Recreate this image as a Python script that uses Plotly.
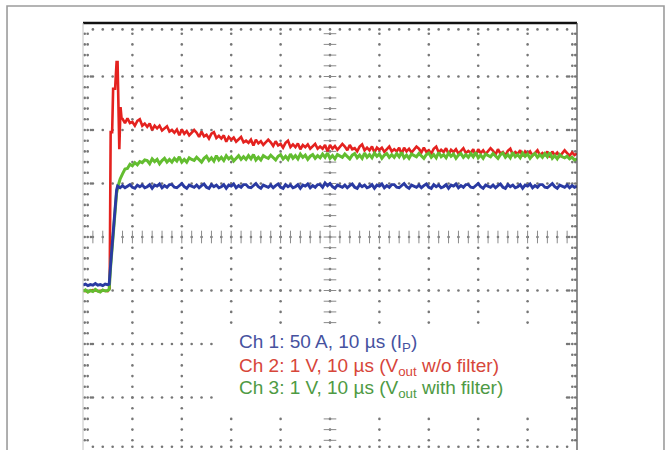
import plotly.graph_objects as go

# ---------------- data (time in µs, 10 µs/div; level in screen divisions, 0 = centre) -------------
# Ch 2 (red, Vout without filter) - edge / spike region
T_CH2_EDGE = [0, 1, 2, 3, 4, 5, 5.4, 5.6, 5.9, 6.1, 6.5, 6.8, 7.0, 7.35, 7.6, 7.8]
Y_CH2_EDGE = [-1.00, -1.02, -0.99, -1.01, -1.00, -1.01, -0.96, 1.96, 1.96, 2.77, 2.77, 3.27, 3.27, 1.64, 2.43, 2.22]

# Ch 3 (green, Vout with filter) - edge region
T_CH3_EDGE = [0, 0.5, 1, 1.5, 2, 2.5, 3, 3.5, 4, 4.5, 5, 5.3, 5.6, 6.0, 6.4, 6.8, 7.1, 7.5]
Y_CH3_EDGE = [-1.02, -0.99, -1.03, -1.00, -1.02, -0.98, -1.01, -1.03, -0.99, -1.01, -1.00, -0.98,
              -0.55, -0.05, 0.45, 0.82, 0.95, 1.08]

# Ch 1 (blue, current) - edge region
T_CH1_EDGE = [0, 0.5, 1, 1.5, 2, 2.5, 3, 3.5, 4, 4.5, 5, 5.3, 5.6, 6.0, 6.4, 6.8, 7.0, 7.5]
Y_CH1_EDGE = [-0.90, -0.88, -0.91, -0.89, -0.90, -0.87, -0.90, -0.89, -0.91, -0.88, -0.89, -0.88,
              -0.50, 0.00, 0.50, 0.88, 0.95, 0.92]

# steady part, one sample every 0.5 µs from 8 µs to 100 µs
T_STEADY = [8 + 0.5 * i for i in range(185)]

Y_CH2_STEADY = [
    2.21, 2.13, 2.22, 2.13, 2.15, 2.08, 2.17, 2.20, 2.08, 2.12,
    2.06, 2.12, 2.00, 2.08, 2.03, 2.08, 1.99, 2.04, 2.07, 1.97,
    2.00, 1.95, 2.01, 1.90, 2.01, 1.93, 1.98, 1.90, 1.95, 2.00,
    1.95, 1.87, 1.97, 1.88, 1.91, 1.84, 1.93, 1.96, 1.85, 1.89,
    1.84, 1.90, 1.78, 1.87, 1.82, 1.86, 1.78, 1.83, 1.87, 1.77,
    1.80, 1.76, 1.82, 1.71, 1.82, 1.75, 1.79, 1.72, 1.77, 1.82,
    1.77, 1.70, 1.79, 1.71, 1.74, 1.67, 1.76, 1.80, 1.68, 1.73,
    1.68, 1.75, 1.64, 1.72, 1.68, 1.73, 1.65, 1.70, 1.74, 1.65,
    1.69, 1.65, 1.72, 1.60, 1.72, 1.65, 1.70, 1.63, 1.69, 1.74,
    1.69, 1.62, 1.72, 1.64, 1.66, 1.60, 1.69, 1.73, 1.62, 1.67,
    1.62, 1.69, 1.58, 1.67, 1.63, 1.67, 1.59, 1.65, 1.69, 1.60,
    1.64, 1.60, 1.67, 1.55, 1.67, 1.60, 1.65, 1.58, 1.64, 1.69,
    1.65, 1.58, 1.67, 1.59, 1.62, 1.56, 1.65, 1.69, 1.58, 1.63,
    1.59, 1.66, 1.55, 1.63, 1.59, 1.64, 1.56, 1.62, 1.66, 1.57,
    1.61, 1.57, 1.64, 1.52, 1.64, 1.57, 1.62, 1.55, 1.61, 1.66,
    1.61, 1.54, 1.64, 1.56, 1.59, 1.52, 1.61, 1.65, 1.54, 1.59,
    1.55, 1.62, 1.51, 1.60, 1.55, 1.60, 1.52, 1.58, 1.62, 1.53,
    1.57, 1.53, 1.60, 1.49, 1.60, 1.53, 1.58, 1.51, 1.57, 1.62,
    1.57, 1.52, 1.58, 1.53, 1.56]

Y_CH3_STEADY = [
    1.18, 1.27, 1.28, 1.36, 1.33, 1.39, 1.35, 1.41, 1.39, 1.44,
    1.43, 1.37, 1.46, 1.41, 1.45, 1.37, 1.43, 1.47, 1.40, 1.45,
    1.40, 1.47, 1.42, 1.50, 1.40, 1.45, 1.40, 1.48, 1.45, 1.43,
    1.49, 1.44, 1.40, 1.47, 1.51, 1.43, 1.48, 1.42, 1.52, 1.44,
    1.49, 1.43, 1.52, 1.46, 1.50, 1.42, 1.48, 1.52, 1.45, 1.50,
    1.45, 1.52, 1.46, 1.54, 1.44, 1.49, 1.44, 1.52, 1.49, 1.47,
    1.53, 1.48, 1.44, 1.51, 1.54, 1.46, 1.51, 1.45, 1.55, 1.47,
    1.52, 1.46, 1.55, 1.49, 1.53, 1.45, 1.51, 1.54, 1.47, 1.52,
    1.48, 1.55, 1.49, 1.57, 1.47, 1.52, 1.46, 1.54, 1.51, 1.49,
    1.55, 1.50, 1.46, 1.53, 1.56, 1.48, 1.53, 1.47, 1.57, 1.49,
    1.54, 1.48, 1.57, 1.51, 1.55, 1.47, 1.53, 1.56, 1.49, 1.54,
    1.49, 1.56, 1.50, 1.58, 1.48, 1.53, 1.47, 1.55, 1.52, 1.50,
    1.56, 1.51, 1.47, 1.54, 1.57, 1.49, 1.54, 1.48, 1.58, 1.50,
    1.54, 1.48, 1.57, 1.51, 1.55, 1.47, 1.53, 1.56, 1.49, 1.54,
    1.49, 1.56, 1.50, 1.58, 1.48, 1.53, 1.47, 1.55, 1.52, 1.50,
    1.56, 1.51, 1.47, 1.54, 1.57, 1.49, 1.54, 1.48, 1.58, 1.50,
    1.54, 1.48, 1.57, 1.51, 1.55, 1.47, 1.53, 1.56, 1.49, 1.54,
    1.49, 1.56, 1.50, 1.58, 1.47, 1.52, 1.46, 1.54, 1.50, 1.48,
    1.51, 1.46, 1.49, 1.44, 1.46]

Y_CH1_STEADY = [
    0.96, 0.92, 0.95, 0.98, 0.93, 0.91, 0.97, 0.94, 0.97, 0.92,
    0.94, 0.98, 0.91, 0.97, 0.95, 0.99, 0.92, 0.96, 0.93, 0.98,
    0.98, 0.93, 0.92, 0.96, 1.00, 0.94, 0.91, 0.97, 0.95, 0.93,
    0.97, 0.92, 0.96, 0.99, 0.93, 0.91, 0.98, 0.94, 0.97, 0.92,
    0.94, 0.98, 0.91, 0.97, 0.95, 0.99, 0.92, 0.96, 0.93, 0.98,
    0.98, 0.93, 0.92, 0.96, 1.00, 0.94, 0.91, 0.97, 0.95, 0.93,
    0.97, 0.92, 0.96, 0.99, 0.93, 0.91, 0.98, 0.94, 0.97, 0.92,
    0.94, 0.98, 0.91, 0.97, 0.95, 0.99, 0.92, 0.96, 0.93, 0.98,
    0.98, 0.93, 1.01, 0.96, 1.00, 0.94, 0.91, 0.97, 0.95, 0.93,
    0.97, 0.92, 0.96, 0.99, 0.93, 0.91, 0.98, 0.94, 0.97, 0.92,
    0.94, 0.98, 0.91, 0.97, 0.95, 0.99, 0.92, 0.96, 0.93, 0.98,
    0.98, 0.93, 0.92, 0.96, 1.00, 0.94, 0.91, 0.97, 0.95, 0.93,
    0.97, 0.92, 0.96, 0.99, 0.93, 0.91, 0.98, 0.94, 0.97, 0.92,
    0.94, 0.98, 0.91, 0.97, 0.95, 0.99, 0.92, 0.96, 0.93, 0.98,
    0.98, 0.93, 0.92, 0.96, 1.00, 0.94, 0.91, 0.97, 0.95, 0.93,
    0.97, 0.92, 0.96, 0.99, 0.93, 0.91, 0.98, 0.94, 0.97, 0.92,
    0.94, 0.98, 0.91, 0.97, 0.95, 0.99, 0.92, 0.96, 0.93, 0.98,
    0.98, 0.93, 0.92, 0.96, 1.00, 0.94, 0.91, 0.97, 0.95, 0.93,
    0.97, 0.92, 0.96, 0.93, 0.95]

LABELS = ["Ch 1: 50 A, 10 µs (I<sub>P</sub>)",
          "Ch 2: 1 V, 10 µs (V<sub>out</sub> w/o filter)",
          "Ch 3: 1 V, 10 µs (V<sub>out</sub> with filter)"]

# ---------------- styling ----------------
C_RED, C_GREEN, C_BLUE = "#e4221f", "#63bd30", "#2a3aa2"
TXT_COLORS = ["#46529f", "#d7463a", "#4e9a44"]
DOT = "#767676"
FONT = "Liberation Sans, Arial, sans-serif"

fig = go.Figure()

# ---- oscilloscope graticule (decoration) ----
gx, gy = [], []
for k in range(1, 10):
    if k == 5:
        continue
    for j in range(-19, 20):
        gx.append(k * 10); gy.append(j * 0.2)
for k in range(-3, 4):
    if k == 0:
        continue
    for i in range(1, 50):
        gx.append(i * 2); gy.append(k)
for i in range(1, 50):
    gx.append(i * 2); gy.append(0)
for j in range(-19, 20):
    gx.append(50); gy.append(j * 0.2)
for j in range(-19, 20):
    for off in (0.35, 0.95):
        gx.append(off); gy.append(j * 0.2)
        gx.append(100 - off); gy.append(j * 0.2)
    if j % 5 == 0:
        gx.append(1.6); gy.append(j * 0.2)
        gx.append(98.4); gy.append(j * 0.2)
for i in range(1, 50):
    gx.append(i * 2); gy.append(3.88)
    gx.append(i * 2); gy.append(-3.92)
fig.add_trace(go.Scatter(x=gx, y=gy, mode="markers", hoverinfo="skip", showlegend=False,
                         marker=dict(size=2.6, color=DOT, line=dict(width=0))))
fig.add_trace(go.Scatter(x=[i * 2 for i in range(1, 50)], y=[0] * 49, mode="markers",
                         hoverinfo="skip", showlegend=False,
                         marker=dict(symbol="line-ns", size=9, line=dict(width=1, color="#8a8a8a"))))
fig.add_trace(go.Scatter(x=[50] * 39, y=[j * 0.2 for j in range(-19, 20)], mode="markers",
                         hoverinfo="skip", showlegend=False,
                         marker=dict(symbol="line-ew", size=9, line=dict(width=1, color="#8a8a8a"))))

# ---- traces ----
fig.add_trace(go.Scatter(x=T_CH2_EDGE + T_STEADY, y=Y_CH2_EDGE + Y_CH2_STEADY, mode="lines",
                         line=dict(color=C_RED, width=2.6), showlegend=False))
fig.add_trace(go.Scatter(x=T_CH3_EDGE + T_STEADY, y=Y_CH3_EDGE + Y_CH3_STEADY, mode="lines",
                         line=dict(color=C_GREEN, width=3.0), showlegend=False))
fig.add_trace(go.Scatter(x=T_CH1_EDGE + T_STEADY, y=Y_CH1_EDGE + Y_CH1_STEADY, mode="lines",
                         line=dict(color=C_BLUE, width=2.9), showlegend=False))

# ---- frame / box shapes ----
shapes = [
    dict(type="rect", xref="paper", yref="paper", x0=-0.1538, x1=1.1761, y0=-0.05, y1=1.0398,
         line=dict(color="#9c9c9c", width=1.6), fillcolor="rgba(0,0,0,0)", layer="below"),
    dict(type="line", xref="paper", yref="paper", x0=0, x1=1, y0=1, y1=1,
         line=dict(color="#111111", width=2.5)),
    dict(type="line", xref="paper", yref="paper", x0=1, x1=1, y0=0, y1=1,
         line=dict(color="#444444", width=1.2)),
    dict(type="line", xref="paper", yref="paper", x0=0, x1=0, y0=0, y1=1,
         line=dict(color="#c4c4c4", width=1)),
    dict(type="rect", xref="x", yref="y", x0=26.9, x1=97.0, y0=-3.27, y1=-1.66,
         line=dict(width=0), fillcolor="white", layer="above"),
]

annotations = []
for lab, col, yv in zip(LABELS, TXT_COLORS, [-1.99, -2.43, -2.84]):
    annotations.append(dict(x=31.2, y=yv, xref="x", yref="y", text=lab, showarrow=False,
                            xanchor="left", yanchor="middle",
                            font=dict(family=FONT, size=19, color=col)))

fig.update_layout(
    width=672, height=450,
    margin=dict(l=83, r=95, t=23, b=0, pad=0),
    paper_bgcolor="white", plot_bgcolor="white",
    xaxis=dict(range=[0, 100], visible=False, fixedrange=True),
    yaxis=dict(range=[-3.981, 4], visible=False, fixedrange=True),
    shapes=shapes, annotations=annotations,
)

fig.write_html("out.html", config={"displayModeBar": False},
               post_script="document.body.style.margin='0';document.body.style.overflow='hidden';")
